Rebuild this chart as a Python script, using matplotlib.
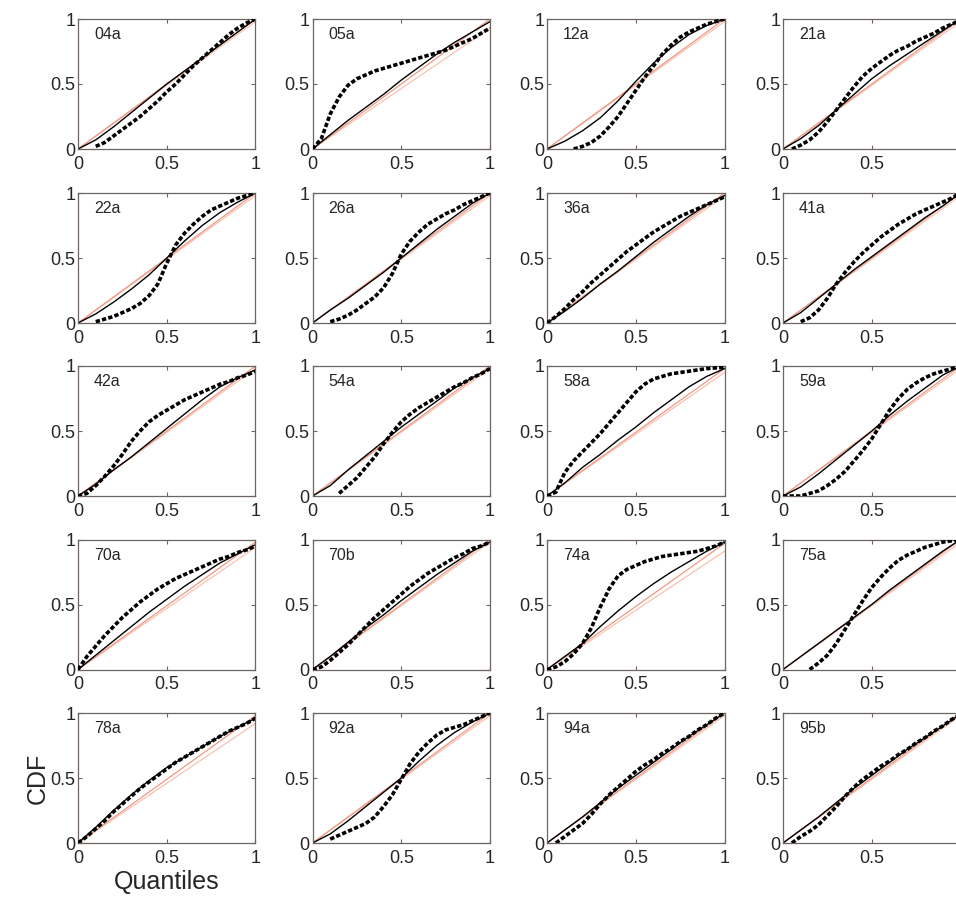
import numpy as np
import matplotlib
matplotlib.use("Agg")
import matplotlib.pyplot as plt

plt.rcParams['font.family'] = ['Liberation Sans', 'DejaVu Sans']

# ---------------- data ----------------
quantiles = [0, 0.1, 0.2, 0.3, 0.4, 0.5, 0.6, 0.7, 0.8, 0.9, 1.0]
quantiles_fine = [0, 0.05, 0.1, 0.15, 0.2, 0.25, 0.3, 0.35, 0.4, 0.45, 0.5,
                  0.55, 0.6, 0.65, 0.7, 0.75, 0.8, 0.85, 0.9, 0.95, 1.0]
nan = np.nan

labels = ["04a", "05a", "12a", "21a",
          "22a", "26a", "36a", "41a",
          "42a", "54a", "58a", "59a",
          "70a", "70b", "74a", "75a",
          "78a", "92a", "94a", "95b"]

solid = {
    "04a": [0, 0.07, 0.17, 0.28, 0.39, 0.50, 0.60, 0.70, 0.80, 0.90, 1.00],
    "05a": [0, 0.11, 0.22, 0.32, 0.42, 0.53, 0.63, 0.73, 0.82, 0.90, 0.98],
    "12a": [0, 0.06, 0.14, 0.24, 0.37, 0.52, 0.66, 0.78, 0.88, 0.95, 1.00],
    "21a": [0, 0.08, 0.18, 0.30, 0.42, 0.54, 0.64, 0.73, 0.82, 0.91, 1.00],
    "22a": [0, 0.07, 0.16, 0.26, 0.37, 0.50, 0.63, 0.75, 0.85, 0.93, 1.00],
    "26a": [0, 0.10, 0.19, 0.29, 0.39, 0.50, 0.61, 0.72, 0.82, 0.92, 1.00],
    "36a": [0, 0.09, 0.19, 0.30, 0.40, 0.51, 0.62, 0.72, 0.82, 0.91, 0.98],
    "41a": [0, 0.08, 0.19, 0.30, 0.41, 0.51, 0.61, 0.71, 0.81, 0.90, 1.00],
    "42a": [0, 0.09, 0.20, 0.30, 0.41, 0.52, 0.63, 0.74, 0.84, 0.91, 0.97],
    "54a": [0, 0.08, 0.20, 0.31, 0.42, 0.53, 0.63, 0.73, 0.83, 0.91, 0.98],
    "58a": [0, 0.10, 0.22, 0.32, 0.43, 0.53, 0.64, 0.74, 0.84, 0.92, 0.98],
    "59a": [0, 0.07, 0.17, 0.28, 0.39, 0.50, 0.62, 0.73, 0.83, 0.93, 1.00],
    "70a": [0, 0.11, 0.22, 0.33, 0.44, 0.54, 0.64, 0.73, 0.82, 0.89, 0.96],
    "70b": [0, 0.10, 0.21, 0.32, 0.42, 0.53, 0.63, 0.73, 0.82, 0.91, 0.98],
    "74a": [0, 0.10, 0.20, 0.33, 0.45, 0.56, 0.66, 0.75, 0.83, 0.91, 0.98],
    "75a": [0, 0.10, 0.20, 0.30, 0.40, 0.50, 0.61, 0.71, 0.81, 0.91, 1.00],
    "78a": [0, 0.12, 0.25, 0.37, 0.48, 0.58, 0.66, 0.74, 0.82, 0.89, 0.96],
    "92a": [0, 0.07, 0.17, 0.28, 0.39, 0.50, 0.63, 0.75, 0.85, 0.93, 1.00],
    "94a": [0, 0.10, 0.20, 0.31, 0.42, 0.52, 0.62, 0.72, 0.82, 0.91, 1.00],
    "95b": [0, 0.10, 0.20, 0.31, 0.42, 0.52, 0.62, 0.72, 0.81, 0.90, 0.99],
}

dashed = {
    "04a": [nan, nan, 0.02, 0.05, 0.10, 0.15, 0.20, 0.25, 0.31, 0.37, 0.44, 0.50, 0.57, 0.64, 0.70, 0.76, 0.82, 0.88, 0.93, 0.97, 1.00],
    "05a": [0, 0.08, 0.27, 0.40, 0.49, 0.54, 0.57, 0.60, 0.62, 0.64, 0.66, 0.68, 0.70, 0.72, 0.74, 0.76, 0.79, 0.82, 0.85, 0.89, 0.93],
    "12a": [nan, nan, nan, 0.00, 0.02, 0.05, 0.10, 0.17, 0.25, 0.35, 0.45, 0.55, 0.64, 0.73, 0.80, 0.86, 0.90, 0.93, 0.96, 0.98, 1.00],
    "21a": [nan, 0.00, 0.03, 0.07, 0.13, 0.21, 0.30, 0.39, 0.48, 0.56, 0.62, 0.67, 0.72, 0.76, 0.79, 0.83, 0.86, 0.89, 0.93, 0.96, 0.99],
    "22a": [nan, nan, 0.01, 0.03, 0.05, 0.08, 0.11, 0.15, 0.21, 0.30, 0.46, 0.60, 0.69, 0.76, 0.82, 0.87, 0.90, 0.93, 0.96, 0.98, 1.00],
    "26a": [nan, nan, 0.01, 0.03, 0.06, 0.10, 0.15, 0.20, 0.27, 0.38, 0.53, 0.63, 0.70, 0.76, 0.80, 0.84, 0.87, 0.91, 0.94, 0.97, 1.00],
    "36a": [0, 0.05, 0.11, 0.18, 0.24, 0.31, 0.37, 0.43, 0.49, 0.55, 0.60, 0.65, 0.70, 0.74, 0.78, 0.82, 0.85, 0.88, 0.91, 0.94, 0.97],
    "41a": [nan, nan, 0.01, 0.04, 0.10, 0.19, 0.30, 0.39, 0.47, 0.54, 0.60, 0.66, 0.71, 0.76, 0.80, 0.84, 0.87, 0.90, 0.93, 0.96, 1.00],
    "42a": [0, 0.02, 0.08, 0.15, 0.23, 0.32, 0.42, 0.50, 0.57, 0.62, 0.66, 0.70, 0.74, 0.77, 0.80, 0.83, 0.86, 0.88, 0.91, 0.93, 0.96],
    "54a": [nan, nan, nan, 0.02, 0.08, 0.14, 0.22, 0.30, 0.40, 0.49, 0.57, 0.63, 0.68, 0.72, 0.76, 0.80, 0.84, 0.87, 0.91, 0.94, 0.98],
    "58a": [0, 0.03, 0.18, 0.27, 0.34, 0.41, 0.48, 0.56, 0.64, 0.72, 0.80, 0.86, 0.90, 0.92, 0.94, 0.95, 0.96, 0.97, 0.98, 0.985, 0.99],
    "59a": [0, 0.00, 0.00, 0.02, 0.04, 0.08, 0.13, 0.19, 0.27, 0.35, 0.44, 0.55, 0.66, 0.75, 0.82, 0.87, 0.91, 0.94, 0.96, 0.98, 0.99],
    "70a": [0, 0.10, 0.18, 0.26, 0.33, 0.40, 0.46, 0.52, 0.57, 0.62, 0.66, 0.70, 0.73, 0.76, 0.79, 0.82, 0.85, 0.87, 0.90, 0.92, 0.95],
    "70b": [0, 0.02, 0.07, 0.13, 0.19, 0.26, 0.33, 0.40, 0.46, 0.52, 0.58, 0.64, 0.69, 0.74, 0.78, 0.82, 0.86, 0.89, 0.93, 0.95, 0.98],
    "74a": [0, 0.02, 0.06, 0.12, 0.20, 0.32, 0.48, 0.62, 0.72, 0.77, 0.80, 0.83, 0.85, 0.87, 0.88, 0.89, 0.90, 0.91, 0.93, 0.95, 0.98],
    "75a": [nan, nan, nan, 0.00, 0.05, 0.11, 0.20, 0.31, 0.42, 0.53, 0.63, 0.71, 0.78, 0.84, 0.88, 0.91, 0.94, 0.96, 0.98, 0.99, 1.00],
    "78a": [0, 0.05, 0.11, 0.17, 0.24, 0.30, 0.36, 0.42, 0.47, 0.52, 0.57, 0.62, 0.66, 0.70, 0.74, 0.78, 0.82, 0.86, 0.89, 0.92, 0.96],
    "92a": [nan, nan, 0.03, 0.06, 0.09, 0.12, 0.15, 0.20, 0.28, 0.37, 0.49, 0.61, 0.70, 0.77, 0.83, 0.87, 0.89, 0.91, 0.94, 0.97, 1.00],
    "94a": [nan, 0.00, 0.05, 0.10, 0.15, 0.22, 0.30, 0.37, 0.43, 0.49, 0.55, 0.60, 0.64, 0.69, 0.73, 0.78, 0.82, 0.87, 0.91, 0.96, 1.00],
    "95b": [nan, 0.00, 0.05, 0.09, 0.14, 0.21, 0.28, 0.36, 0.43, 0.49, 0.54, 0.59, 0.63, 0.68, 0.72, 0.77, 0.81, 0.86, 0.90, 0.95, 0.99],
}

# reference (uniform) lines: value reached at quantile 1
ref_x = [0, 1]
ref_hi_end = {k: 1.0 for k in labels}
ref_lo_end = {k: 0.98 for k in labels}
ref_lo_end.update({"05a": 0.93, "58a": 0.95, "70a": 0.94, "74a": 0.91, "78a": 0.92})
ref_hi_end.update({"58a": 0.98, "70a": 0.98, "74a": 0.97, "78a": 0.98})

tick_vals = [0, 0.5, 1]
tick_text = ["0", "0.5", "1"]
tick_text_cut = ["0", "0.5", ""]   # right column: its "1" lies beyond the picture edge

# ---------------- layout ----------------
W, H = 956, 897
fig = plt.figure(figsize=(W / 100, H / 100), dpi=100)
col_left = [78, 312.5, 547, 783]
row_top = [19, 193, 366, 539.5, 713]
aw, ah = 177.5, 130

spine_col = '#6e6460'
text_col = '#262626'

for i, lab in enumerate(labels):
    r, c = divmod(i, 4)
    ax = fig.add_axes([col_left[c] / W, (H - row_top[r] - ah) / H, aw / W, ah / H])
    ax.plot(ref_x, [0, ref_lo_end[lab]], color='#f7c3b3', lw=0.9, zorder=1)
    ax.plot(ref_x, [0, ref_hi_end[lab]], color='#ee9a84', lw=0.9, zorder=1)
    ax.plot(quantiles, solid[lab], color='black', lw=1.0, zorder=2)
    ax.plot(quantiles_fine, dashed[lab], color='black', lw=2.6,
            linestyle=(0, (1.2, 0.6)), zorder=3)
    ax.set_xlim(0, 1)
    ax.set_ylim(0, 1)
    ax.set_xticks(tick_vals)
    ax.set_xticklabels(tick_text_cut if c == 3 else tick_text)
    ax.set_yticks(tick_vals)
    ax.set_yticklabels(tick_text)
    ax.tick_params(direction='in', length=3, width=0.8, color=spine_col,
                   top=True, right=True, labelsize=13, labelcolor=text_col)
    ax.tick_params(axis='x', pad=5)
    ax.tick_params(axis='y', pad=2)
    for s in ax.spines.values():
        s.set_color(spine_col)
        s.set_linewidth(0.9)
    ax.text(0.09, 0.88, lab, transform=ax.transAxes, ha='left', va='center',
            fontsize=11.5, color=text_col)
    if r == 4 and c == 0:
        ax.set_xlabel("Quantiles", fontsize=18, color=text_col, labelpad=2)
        ax.set_ylabel("CDF", fontsize=18, color=text_col, labelpad=0)

fig.savefig("out.png", dpi=100)
